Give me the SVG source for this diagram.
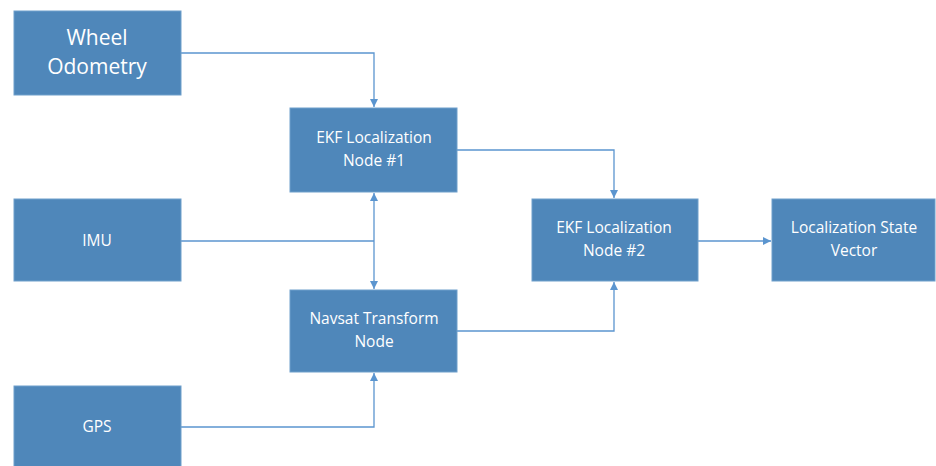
<svg xmlns="http://www.w3.org/2000/svg" width="936" height="466" viewBox="0 0 936 466">
<style>
.box{fill:#4f87ba;stroke:#6f9fcb;stroke-width:1}
.t{fill:#ffffff;font-family:"Open Sans","Liberation Sans",sans-serif;font-size:15.5px;text-anchor:middle}
.big{font-size:21px}
.c{fill:none;stroke:#5b95cf;stroke-width:1.3}
</style>
<defs>
<marker id="a" markerWidth="10" markerHeight="10" refX="8" refY="5" orient="auto" markerUnits="userSpaceOnUse">
<path d="M0,1 L8,5 L0,9 Z" fill="#5b95cf"/>
</marker>
</defs>
<rect width="936" height="466" fill="#ffffff"/>
<g id="connectors">
<path class="c" d="M181,53 H374 V107" marker-end="url(#a)"/>
<path class="c" d="M181,241 H374"/>
<path class="c" d="M374,241 V193" marker-end="url(#a)"/>
<path class="c" d="M374,241 V289" marker-end="url(#a)"/>
<path class="c" d="M181,427 H374 V373" marker-end="url(#a)"/>
<path class="c" d="M457,150 H614 V198" marker-end="url(#a)"/>
<path class="c" d="M457,331 H614 V282" marker-end="url(#a)"/>
<path class="c" d="M698,241 H771" marker-end="url(#a)"/>
</g>
<g id="wheel"><rect class="box" x="14" y="11" width="167" height="84"/>
<text class="t big" x="97" y="45">Wheel</text><text class="t big" x="97" y="74">Odometry</text></g>
<g id="imu"><rect class="box" x="14" y="199" width="167" height="82"/>
<text class="t" x="97" y="246">IMU</text></g>
<g id="gps"><rect class="box" x="14" y="386" width="167" height="82"/>
<text class="t" x="97" y="432">GPS</text></g>
<g id="ekf1"><rect class="box" x="290" y="108" width="167" height="84"/>
<text class="t" x="374" y="143">EKF Localization</text><text class="t" x="374" y="166">Node #1</text></g>
<g id="navsat"><rect class="box" x="290" y="290" width="167" height="82"/>
<text class="t" x="374" y="324">Navsat Transform</text><text class="t" x="374" y="347">Node</text></g>
<g id="ekf2"><rect class="box" x="532" y="199" width="166" height="82"/>
<text class="t" x="614" y="233">EKF Localization</text><text class="t" x="614" y="256">Node #2</text></g>
<g id="state"><rect class="box" x="772" y="199" width="163" height="82"/>
<text class="t" x="854" y="233">Localization State</text><text class="t" x="854" y="256">Vector</text></g>
</svg>
